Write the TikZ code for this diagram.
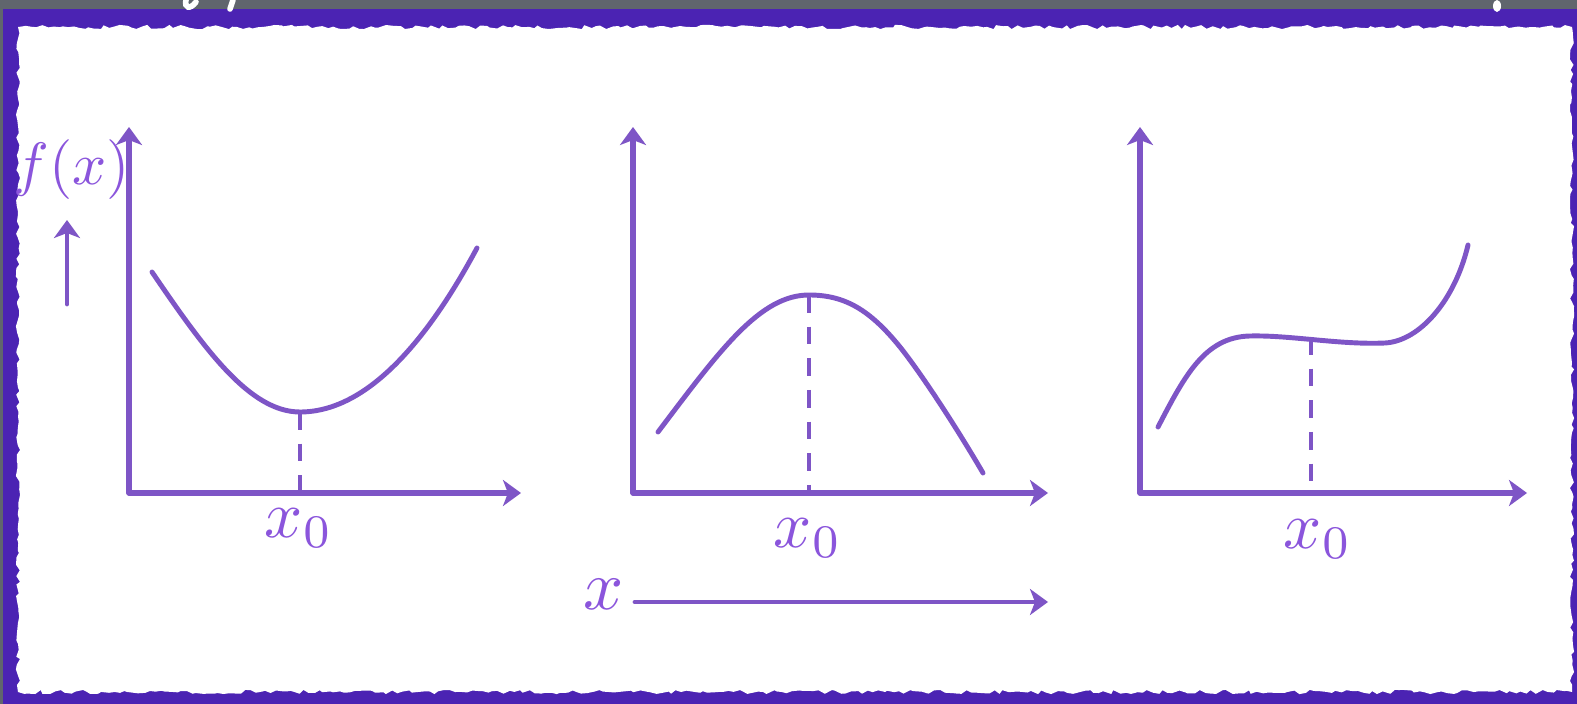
\documentclass[tikz,border=0pt]{standalone}
\usetikzlibrary{arrows.meta,decorations.pathmorphing}
\definecolor{bggray}{HTML}{60656D}
\definecolor{chalk}{HTML}{4B23B3}
\definecolor{ink}{HTML}{7E55C6}
\definecolor{txt}{HTML}{8B55DC}
\tikzset{
  axis/.style={ink, line width=1.5pt, line cap=round, line join=round,
    -{Stealth[length=0.18cm,width=0.26cm,inset=0.05cm]}},
  curve/.style={ink, line width=1.4pt, line cap=round},
  guide/.style={ink, line width=1.4pt, dash pattern=on 5pt off 4pt},
  lab/.style={txt, inner sep=0pt, anchor=base},
}
\begin{document}
\begin{tikzpicture}[x=0.01cm,y=-0.01cm]
\useasboundingbox (0,0) rectangle (1577,704);
% background and chalk frame
\fill[bggray] (0,0) rectangle (1577,704);
\fill[chalk] (3,9) rectangle (1577,704);
\fill[white, decorate, decoration={random steps,segment length=1.5pt,amplitude=0.6pt}]
  (18,27) rectangle (1572,692);
% faint white strokes of cut-off writing at top
\draw[white, line width=1.6pt, line cap=round] (186,0) .. controls (184,8) and (190,10) .. (196,2);
\draw[white, line width=1.6pt, line cap=round] (233,0) -- (230,9);
\fill[white] (1497,6) ellipse (4 and 6);

% ---------- plot 1 ----------
\coordinate (o1) at (129,493);
\coordinate (y1) at (129,127);
\coordinate (x1) at (521,493);
\coordinate (m1) at (300,412);
\coordinate (b1) at (300,493);
\draw[axis] (o1) -- (y1);
\draw[axis] (o1) -- (x1);
\draw[curve] (152,272) .. controls (205,350) and (250,412) .. (m1)
  .. controls (365,412) and (425,345) .. (477,248);
\draw[guide] (m1) -- (b1);
\node[lab, scale=1.9] (l1) at (299,537) {$x_0$};

% f(x) label and arrow
\node[lab, scale=1.7] (fx) at (72,185) {$f(x)$};
\coordinate (fa0) at (67,304);
\coordinate (fa1) at (67,220);
\draw[axis, line width=1.4pt] (fa0) -- (fa1);

% ---------- plot 2 ----------
\coordinate (o2) at (633,493);
\coordinate (y2) at (633,127);
\coordinate (x2) at (1048,493);
\coordinate (m2) at (809,295);
\coordinate (b2) at (809,493);
\draw[axis] (o2) -- (y2);
\draw[axis] (o2) -- (x2);
\draw[curve] (658,432) .. controls (720,350) and (760,295) .. (m2)
  .. controls (845,295) and (870,310) .. (900,347)
  .. controls (920,372) and (955,425) .. (983,473);
\draw[guide] (m2) -- (b2);
\node[lab, scale=1.9] (l2) at (808,547) {$x_0$};

% x label and arrow
\node[lab, scale=2.0] (xl) at (604,609) {$x$};
\coordinate (xa0) at (635,602);
\coordinate (xa1) at (1048,602);
\draw[axis, line width=1.4pt] (xa0) -- (xa1);

% ---------- plot 3 ----------
\coordinate (o3) at (1140,493);
\coordinate (y3) at (1140,127);
\coordinate (x3) at (1527,493);
\coordinate (m3) at (1311,337);
\coordinate (b3) at (1311,484);
\draw[axis] (o3) -- (y3);
\draw[axis] (o3) -- (x3);
\draw[curve] (1158,427) .. controls (1185,375) and (1205,337) .. (1250,336)
  .. controls (1290,335) and (1340,345) .. (1385,343)
  .. controls (1420,341) and (1455,300) .. (1468,245);
\draw[guide] (m3) -- (b3);
\node[lab, scale=1.9] (l3) at (1318,548) {$x_0$};
\end{tikzpicture}
\end{document}
